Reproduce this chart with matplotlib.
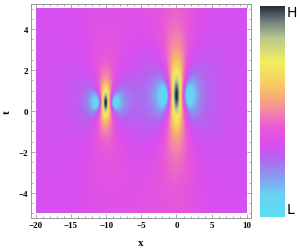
import numpy as np
import matplotlib
matplotlib.use("Agg")
import matplotlib.pyplot as plt
from matplotlib.colors import LinearSegmentedColormap, Normalize
from matplotlib.cm import ScalarMappable
from matplotlib.ticker import MultipleLocator

# Domain
x_range = [-20, 10]
t_range = [-5, 5]

# Rogue-wave peaks (centre x, centre t, x scale, t scale)
peak_x = [-10.1, 0.0]
peak_t = [0.40, 0.75]
peak_sx = [1.5, 2.0]
peak_st = [1.1, 2.0]

x_ticks = [-20, -15, -10, -5, 0, 5, 10]
t_ticks = [-4, -2, 0, 2, 4]

# Colour map (L -> H)
cmap_pos = [0.0, 0.10, 0.20, 0.28, 0.34, 0.42, 0.49, 0.56, 0.64, 0.74, 0.85, 0.93, 1.0]
cmap_col = ["#5cdcf2", "#66d4f2", "#8c94f0", "#b464f0", "#d84ef0", "#e858d8",
            "#f080b0", "#f8a878", "#f8d060", "#f0ee60", "#b8c890", "#707c80", "#282c34"]
cmap = LinearSegmentedColormap.from_list("hl", list(zip(cmap_pos, cmap_col)))

x = np.linspace(x_range[0], x_range[1], 600)
t = np.linspace(t_range[0], t_range[1], 400)
X, T = np.meshgrid(x, t)
u = np.ones_like(X, dtype=complex)
for x0, t0, sx, st in zip(peak_x, peak_t, peak_sx, peak_st):
    xx = (X - x0) / sx
    tt = (T - t0) / st
    D = 1 + 4 * xx**2 + 4 * tt**2
    u = u - 4 * (1 + 2j * tt) / D
amp = np.abs(u)

# colour index for |u| (background |u| = 1 sits on the magenta band)
amp_nodes = [0.0, 0.4, 0.62, 0.8, 0.92, 1.0, 3.0]
lev_nodes = [0.02, 0.10, 0.20, 0.28, 0.32, 0.34, 1.0]
level = np.interp(amp, amp_nodes, lev_nodes)

fig = plt.figure(figsize=(3.0, 2.51), dpi=100)
ax = fig.add_axes([31/300, 32/251, 220/300, 214/251])
ax.imshow(level, origin="lower", extent=[x_range[0], x_range[1], t_range[0], t_range[1]],
          cmap=cmap, norm=Normalize(0, 1), aspect="auto", interpolation="bilinear")
ax.set_xlim(-20.7, 10.6)
ax.set_ylim(-5.22, 5.22)
ax.set_xticks(x_ticks)
ax.set_yticks(t_ticks)
ax.set_xticklabels(["\u221220", "\u221215", "\u221210", "\u22125", "0", "5", "10"])
ax.set_yticklabels(["\u22124", "\u22122", "0", "2", "4"])
ax.xaxis.set_minor_locator(MultipleLocator(1))
ax.yaxis.set_minor_locator(MultipleLocator(0.5))
ax.tick_params(which="both", direction="in", top=True, right=True, color="#888888",
               width=0.5, labelsize=6.5, pad=2)
ax.tick_params(which="major", length=3)
ax.tick_params(which="minor", length=1.5)
for lab in ax.get_xticklabels() + ax.get_yticklabels():
    lab.set_fontfamily("Liberation Serif")
    lab.set_fontweight("bold")
for s in ax.spines.values():
    s.set_color("#888888")
    s.set_linewidth(0.6)
ax.set_xlabel("x", fontfamily="Liberation Serif", fontweight="bold", fontsize=8, labelpad=7)
ax.set_ylabel("t", fontfamily="Liberation Serif", fontweight="bold", fontsize=8, labelpad=5)

cax = fig.add_axes([260/300, 33/251, 25/300, 211/251])
cb = fig.colorbar(ScalarMappable(norm=Normalize(0, 1), cmap=cmap), cax=cax)
cb.outline.set_visible(False)
cb.set_ticks([])
fig.text(287/300, 1 - 13/251, "H", fontsize=10, va="center", ha="left")
fig.text(287/300, 1 - 210/251, "L", fontsize=10, va="center", ha="left")

fig.savefig("out.png", dpi=100)
